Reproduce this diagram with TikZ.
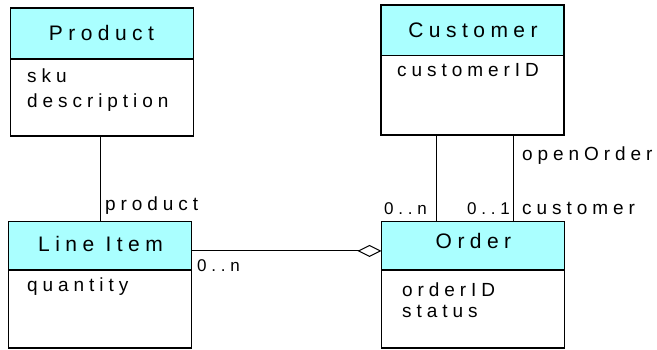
\documentclass[tikz,border=0pt]{standalone}
\usepackage{fontspec}
\setmainfont{Liberation Sans}
\newfontfamily\titlefont[LetterSpace=26]{Liberation Sans}
\newfontfamily\attrfont[LetterSpace=26]{Liberation Sans}
\newfontfamily\multfont[LetterSpace=28]{Liberation Sans}
\usetikzlibrary{arrows.meta}
\definecolor{hdrcyan}{RGB}{170,255,255}
\begin{document}
\begin{tikzpicture}[x=1pt,y=-1pt,
  hdr/.style={draw, fill=hdrcyan, line width=1.2pt, anchor=north west, inner sep=0pt, outer sep=0pt, minimum width=183pt},
  body/.style={draw, fill=white, line width=1.2pt, anchor=north west, inner sep=0pt, outer sep=0pt, minimum width=183pt},
  title/.style={anchor=base, inner sep=0pt, font=\titlefont\fontsize{21}{21}\selectfont},
  attr/.style={anchor=base west, inner sep=0pt, font=\attrfont\fontsize{19}{19}\selectfont},
  role/.style={anchor=base west, inner sep=0pt, font=\attrfont\fontsize{19}{19}\selectfont},
  mult/.style={anchor=base west, inner sep=0pt, font=\multfont\fontsize{17}{17}\selectfont},
  conn/.style={line width=1pt},
]
\useasboundingbox (0,0) rectangle (657,350);

% Product
\node[hdr, minimum height=51pt] (productH) at (10.5,8) {};
\node[body, minimum height=77pt] (productB) at (productH.south west) {};
\node[title] (productT) at (101.5,41) {Product};
\node[attr] (productA1) at (27,82.5) {sku};
\node[attr] (productA2) at (27,107.5) {description};

% Customer
\node[hdr, minimum height=50.5pt] (customerH) at (381,5) {};
\node[body, minimum height=79.5pt] (customerB) at (customerH.south west) {};
\node[title] (customerT) at (473,37.5) {Customer};
\node[attr] (customerA1) at (397,76.7) {customerID};

% Line Item
\node[hdr, minimum height=48.3pt] (lineH) at (8.5,221.7) {};
\node[body, minimum height=78pt] (lineB) at (lineH.south west) {};
\node[title] (lineT) at (100.5,251.7) {Line Item};
\node[attr] (lineA1) at (27,291) {quantity};

% Order
\node[hdr, minimum height=48.3pt] (orderH) at (381.5,221.7) {};
\node[body, minimum height=78pt] (orderB) at (orderH.south west) {};
\node[title] (orderT) at (473.5,249) {Order};
\node[attr] (orderA1) at (402,296.7) {orderID};
\node[attr] (orderA2) at (402,317.3) {status};

% connectors
\draw[conn] ([xshift=-1.5pt]productB.south) -- ([xshift=-1.5pt]productB.south |- lineH.north);
\draw[conn] ([xshift=-36pt]customerB.south) -- ([xshift=-36pt]customerB.south |- orderH.north);
\draw[conn] ([xshift=41pt]customerB.south) -- ([xshift=41pt]customerB.south |- orderH.north);
\draw[conn, -{Diamond[open, length=24pt, width=12pt, line width=1pt]}]
  ([yshift=-5.1pt]lineH.east) -- ([yshift=-5.1pt]lineH.east -| orderH.west);

% labels
\node[role] (lblProduct) at (105,210.7) {product};
\node[mult] (lblLineN) at (197,272) {0..n};
\node[mult] (lblOrderN) at (384,214.5) {0..n};
\node[mult] (lblOrder1) at (467,214.5) {0..1};
\node[role] (lblCustomer) at (522,214.5) {customer};
\node[role] (lblOpen) at (522,161) {openOrder};
\end{tikzpicture}
\end{document}
